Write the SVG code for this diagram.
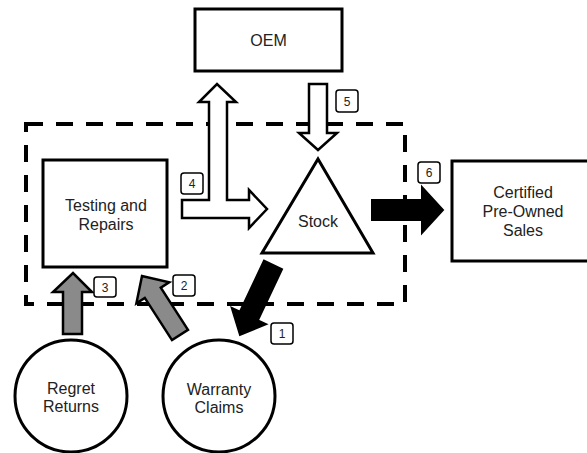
<svg xmlns="http://www.w3.org/2000/svg" width="587" height="453" viewBox="0 0 587 453">
<style>
.node{fill:#fff;stroke:#000;stroke-width:3}
.t{font-family:"Liberation Sans",Arial,sans-serif;font-size:16px;fill:#222;text-anchor:middle}
.lb rect{fill:#fff;stroke:#000;stroke-width:1.5}
.lb text{font-family:"Liberation Sans",Arial,sans-serif;font-size:12px;fill:#222;text-anchor:middle}
.wa{fill:#fff;stroke:#000;stroke-width:2.5;stroke-linejoin:miter}
.ba{fill:#000;stroke:#000;stroke-width:2}
.ga{fill:#8a8a8a;stroke:#000;stroke-width:2.5}
</style>
<rect x="26" y="124" width="379" height="180" fill="none" stroke="#000" stroke-width="4" stroke-dasharray="17 13"/>
<g id="oem"><rect class="node" x="195" y="9" width="147" height="62"/><text class="t" x="268.5" y="46">OEM</text></g>
<g id="testing"><rect class="node" x="43" y="160" width="124" height="107"/><text class="t" x="106" y="210.5">Testing and</text><text class="t" x="106" y="229.5">Repairs</text></g>
<g id="stock"><polygon class="node" points="318,159 373,253 262,253"/><text class="t" x="318" y="227">Stock</text></g>
<g id="cpo"><rect class="node" x="452" y="161" width="142" height="100"/><text class="t" x="523" y="198">Certified</text><text class="t" x="523" y="217">Pre-Owned</text><text class="t" x="523" y="236">Sales</text></g>
<g id="regret"><circle class="node" cx="71" cy="396" r="56"/><text class="t" x="71" y="394">Regret</text><text class="t" x="71" y="412">Returns</text></g>
<g id="warranty"><circle class="node" cx="219" cy="396" r="56"/><text class="t" x="219" y="395">Warranty</text><text class="t" x="219" y="413">Claims</text></g>
<g id="connectors">
<path class="wa" d="M182,200 L209,200 L209,102 L199,102 L217,84 L236,102 L227,102 L227,200 L249,200 L249,190 L267,209 L249,228 L249,218 L182,218 Z"/>
<path class="wa" d="M309,84 L327,84 L327,133 L337,133 L318,150 L299,133 L309,133 Z"/>
<path class="ba" d="M372,200 L422,200 L422,187 L443,210 L422,233 L422,220 L372,220 Z"/>
<path class="ba" d="M282,269.3 L257.9,320.3 L266.1,324.1 L240,335 L231.7,307.9 L239.9,311.7 L264,260.7 Z"/>
<path class="ga" d="M188,329.9 L160.8,287.7 L169.2,282.3 L142,276 L136.4,303.3 L144.8,297.9 L172,340.1 Z"/>
<path class="ga" d="M63,334 L63,292 L53,292 L73,273 L92,292 L82,292 L82,334 Z"/>
</g>
<g id="labels">
<g class="lb"><rect x="271" y="323" width="22" height="21" rx="3"/><text x="282" y="338">1</text></g>
<g class="lb"><rect x="173" y="275" width="22" height="21" rx="3"/><text x="184" y="290">2</text></g>
<g class="lb"><rect x="94" y="277" width="22" height="20" rx="3"/><text x="105" y="291.5">3</text></g>
<g class="lb"><rect x="181" y="173" width="22" height="21" rx="3"/><text x="192" y="188">4</text></g>
<g class="lb"><rect x="336" y="90" width="22" height="22" rx="3"/><text x="347" y="105.5">5</text></g>
<g class="lb"><rect x="418" y="162" width="22" height="21" rx="3"/><text x="429" y="177">6</text></g>
</g>
</svg>
